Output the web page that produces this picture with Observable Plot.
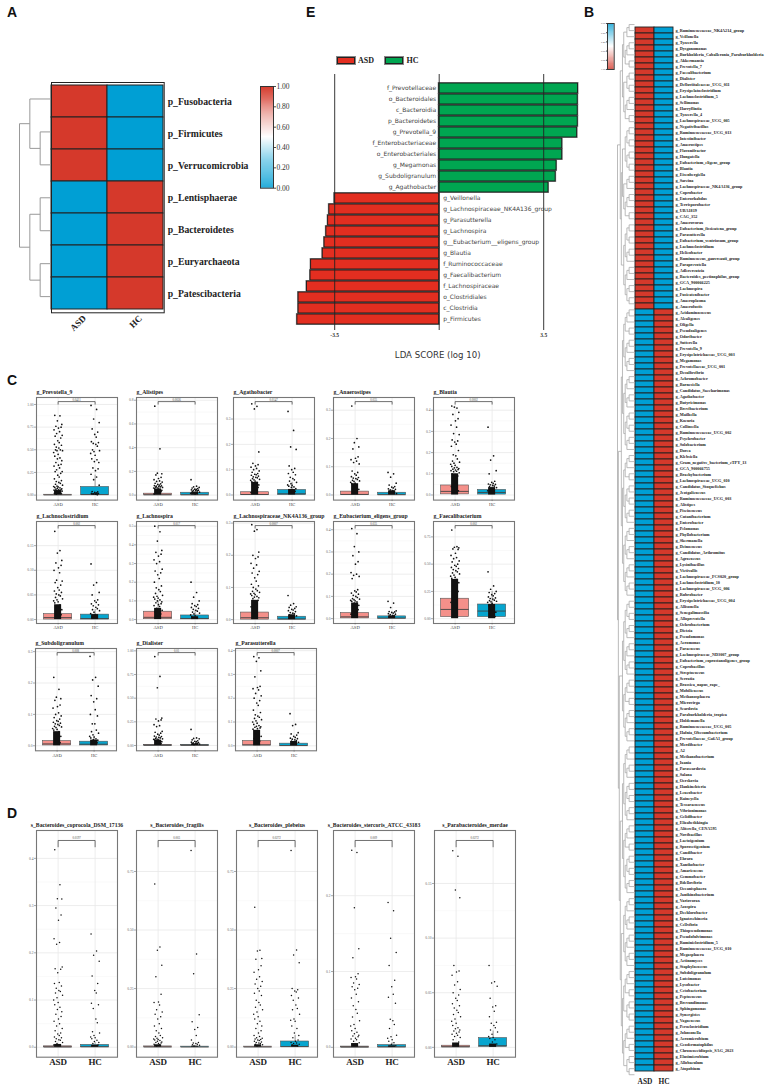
<!DOCTYPE html>
<html><head><meta charset="utf-8">
<script src="https://cdn.jsdelivr.net/npm/d3@7"></script>
<script src="https://cdn.jsdelivr.net/npm/@observablehq/plot@0.6"></script>
<style>
html,body{margin:0;padding:0;background:#fff}
#page{position:relative;width:767px;height:1089px;overflow:hidden;background:#fff}
#page svg{position:absolute;max-width:none;overflow:visible;background:transparent}
.letter{position:absolute;font:bold 14px "Liberation Sans",sans-serif;color:#111;line-height:14px}
.swatch{position:absolute;border:1px solid #222;outline:1px solid #888;box-sizing:border-box}
.legtxt{position:absolute;font:bold 8px "Liberation Serif",serif;color:#222;line-height:8px}
</style></head><body><div id="page"></div>
<script>
// ---------- Panel A ----------
const phylaHighASD=["p_Fusobacteria","p_Firmicutes","p_Verrucomicrobia"];
const phylaHighHC=["p_Lentisphaerae","p_Bacteroidetes","p_Euryarchaeota","p_Patescibacteria"];
const groups=["ASD","HC"];
const treeA=[[1,[1,1]],[[1,1],[1,1]]];
const legendTicks=[0,.2,.4,.6,.8,1];
// ---------- Panel B ----------
const genusHighASD=["g_Ruminococcaceae_NK4A214_group","g_Veillonella","g_Tyzzerella","g_Dysgonomonas","g_Burkholderia_Caballeronia_Paraburkholderia","g_Akkermansia","g_Prevotella_7","g_Faecalibacterium","g_Dialister","g_Defluviitaleaceae_UCG_011","g_Erysipelatoclostridium","g_Lachnoclostridium_5","g_Sellimonas","g_Harryflintia","g_Tyzzerella_4","g_Lachnospiraceae_UCG_005","g_Negativibacillus","g_Ruminococcaceae_UCG_013","g_Intestinibacter","g_Anaerostipes","g_Flavonifractor","g_Hungatella","g_Eubacterium_eligens_group","g_Blautia","g_Eisenbergiella","g_Sarcina","g_Lachnospiraceae_NK4A136_group","g_Coprobacter","g_Enterorhabdus","g_Terrisporobacter","g_UBA1819","g_CAG_352","g_Anaerovorax","g_Eubacterium_fissicatena_group","g_Parasutterella","g_Eubacterium_ventriosum_group","g_Lachnoclostridium","g_Helicobacter","g_Ruminococcus_gauvreauii_group","g_Paraprevotella","g_Adlercreutzia","g_Bacteroides_pectinophilus_group","g_GCA_900066225","g_Lachnospira","g_Fusicatenibacter","g_Anaeroplasma","g_Anaerofustis"];
const genusHighHC=["g_Acidaminococcus","g_Alcaligenes","g_Oligella","g_Pseudoaligenes","g_Odoribacter","g_Sutterella","g_Prevotella_9","g_Erysipelotrichaceae_UCG_003","g_Megamonas","g_Prevotellaceae_UCG_001","g_Desulfovibrio","g_Achromobacter","g_Barnesiella","g_Candidatus_Saccharimonas","g_Agathobacter","g_Butyricimonas","g_Brevibacterium","g_Mailhella","g_Kocuria","g_Collinsella","g_Ruminococcaceae_UCG_002","g_Psychrobacter","g_Solobacterium","g_Dorea","g_Klebsiella","g_Gram_negative_bacterium_cTPY_13","g_GCA_900066755","g_Brachybacterium","g_Lachnospiraceae_UCG_010","g_Candidatus_Stoquefichus","g_Jeotgalicoccus","g_Ruminococcaceae_UCG_003","g_Alistipes","g_Pisciococcus","g_Cutanibacterium","g_Enterobacter","g_Pelomonas","g_Phyllobacterium","g_Skermanella","g_Deinococcus","g_Candidatus_Arthromitus","g_Agrococcus","g_Lysinibacillus","g_Victivallis","g_Lachnospiraceae_FCS020_group","g_Lachnoclostridium_10","g_Lachnospiraceae_UCG_006","g_Rubrobacter","g_Erysipelotrichaceae_UCG_004","g_Allisonella","g_Senegalimassilia","g_Alloprevotella","g_Ochrobacterium","g_Dietzia","g_Pseudomonas","g_Aeromonas","g_Paracoccus","g_Lachnospiraceae_ND3007_group","g_Eubacterium_coprostanoligenes_group","g_Coprobacillus","g_Streptococcus","g_Serratia","g_Brassica_napus_rape_","g_Mobilicoccus","g_Methanosphaera","g_Microvirga","g_Scardovia","g_Paraburkholderia_tropica","g_Holdemanella","g_Ruminococcaceae_UCG_005","g_Hafnia_Obesumbacterium","g_Prevotellaceae_Ga6A1_group","g_Merdibacter","g_A2","g_Methanobacterium","g_Ixania","g_Parascardovia","g_Salana","g_Oerskovia","g_Hankinchteria","g_Leucobacter","g_Raineyella","g_Tessaracoccus","g_Vibrionimonas","g_Gelidibacter","g_Elizabethkingia","g_Aliterella_CENA595","g_Novibacillus","g_Lactoigenium","g_Sporosetigenium","g_Candibacter","g_Ehrara","g_Xanthobacter","g_Amaricoccus","g_Gemmobacter","g_Bdellovibrio","g_Oceanisphaera","g_Janthinobacterium","g_Variovorax","g_Azospira","g_Dechlorobacter","g_Ignatzschineria","g_Cellvibrio","g_Thiopseudomonas","g_Pseudofulvimonas","g_Ruminiclostridium_5","g_Ruminococcaceae_UCG_010","g_Megasphaera","g_Actinomyces","g_Staphylococcus","g_Subdoligranulum","g_Luteimonas","g_Lysobacter","g_Cetobacterium","g_Peptococcus","g_Brevundimonas","g_Sphingomonas","g_Synergistes","g_Vagococcus","g_Peroclostridium","g_Johnsonella","g_Aeromicrobium","g_Geodermatophilus","g_Chroococcidiopsis_SAG_2023","g_Elusimicrobium","g_Allobaculum","g_Atopobium"];
const treeB=[[[[3,5],[4,5]],[[[4,4],[3,5]],[[4,3],[3,4]]]],[[[[5,6],[6,7]],[[5,7],[6,6]]],[[[7,6],[5,6]],[[[6,7],[5,7]],[[6,6],[9,9]]]]]];
// ---------- Panel E ----------
const ldaHCNames=["f_Prevotellaceae","o_Bacteroidales","c_Bacteroidia","p_Bacteroidetes","g_Prevotella_9","f_Enterobacteriaceae","o_Enterobacteriales","g_Megamonas","g_Subdoligranulum","g_Agathobacter"];
const ldaHCScores=[4.65,4.64,4.64,4.64,4.62,4.12,4.12,3.93,3.90,3.66];
const ldaASDNames=["g_Veillonella","g_Lachnospiraceae_NK4A136_group","g_Parasutterella","g_Lachnospira","g__Eubacterium__eligens_group","g_Blautia","f_Ruminococcaceae","g_Faecalibacterium","f_Lachnospiraceae","o_Clostridiales","c_Clostridia","p_Firmicutes"];
const ldaASDScores=[-3.50,-3.68,-3.72,-3.78,-3.84,-3.90,-4.29,-4.31,-4.43,-4.71,-4.71,-4.75];
const ldaTicks=[-3.5,0,3.5];
// ---------- Panels C and D: values read per panel ----------
const jitter=[-.09,.05,-.02,.1,-.06,.08,.01,-.11,.04,-.04,.11,-.08,.07,-.01,.03,-.1,.09,-.05,.02,.06,-.07,.12,-.03,-.12,0];
const prevotella9ASD=[.88,.875,.82,.78,.76,.75,.74,.72,.7,.68,.66,.65,.63,.6,.58,.56,.55,.53,.52,.5,.5,.49,.49,.47,.45,.43,.41,.4,.38,.36,.34,.33,.32,.3,.28,.26,.26,.24,.22,.2,.18,.16,.15,.14,.13,.12,.11,.1,.095,.09,.085,.08,.075,.07,.065,.06,.058,.055,.052,.05,.045,.04,.035,.03,.025,.02,.015,.01];
const prevotella9HC=[.99,.945,.84,.8,.73,.695,.67,.64,.59,.58,.57,.56,.54,.5,.49,.48,.46,.44,.4,.39,.37,.36,.3,.29,.27,.23,.2,.17,.11,.04,.035,.03,.025,.02,.018,.015,.01,.005];
const alistipesASD=[.75,.39,.185,.18,.17,.15,.14,.13,.12,.115,.11,.1,.095,.09,.085,.08,.078,.075,.072,.07,.068,.065,.062,.06,.058,.055,.05,.045,.04,.035,.03,.02,.01];
const alistipesHC=[.13,.075,.07,.065,.06,.055,.05,.048,.045,.042,.04,.038,.035,.03,.025,.02,.015,.01];
const agathobacterASD=[.36,.35,.34,.17,.125,.12,.115,.11,.105,.1,.095,.09,.085,.082,.08,.078,.075,.072,.07,.068,.065,.062,.06,.058,.055,.052,.05,.045,.04,.035,.03,.02,.01];
const agathobacterHC=[.33,.255,.19,.18,.115,.105,.1,.09,.085,.08,.07,.065,.06,.055,.05,.045,.04,.038,.035,.032,.03,.025,.02,.015,.01];
const anaerostipesASD=[.315,.2,.185,.17,.163,.135,.13,.125,.12,.115,.11,.085,.08,.075,.07,.065,.062,.06,.058,.055,.052,.05,.048,.045,.042,.04,.035,.03,.02,.01];
const anaerostipesHC=[.08,.075,.063,.042,.035,.03,.028,.025,.022,.02,.018,.015,.012,.01,.005];
const blautiaASD=[.42,.41,.415,.39,.38,.36,.35,.33,.32,.29,.285,.26,.255,.25,.24,.23,.21,.19,.185,.17,.16,.155,.15,.145,.14,.135,.13,.128,.125,.122,.12,.118,.115,.112,.11,.105,.1,.09,.08,.06,.04,.02];
const blautiaHC=[.32,.185,.165,.115,.1,.065,.06,.055,.052,.05,.048,.045,.042,.04,.035,.03,.02,.01];
const lachnoclostridiumASD=[.179,.14,.135,.12,.115,.11,.105,.1,.095,.08,.078,.075,.07,.065,.06,.058,.055,.052,.05,.048,.045,.042,.04,.038,.036,.034,.03,.025,.02,.015,.01];
const lachnoclostridiumHC=[.113,.075,.07,.055,.05,.04,.038,.035,.032,.03,.028,.025,.022,.02,.018,.015,.012,.01,.005];
const lachnospiraASD=[.5,.47,.42,.37,.36,.35,.34,.32,.31,.3,.27,.26,.25,.24,.22,.2,.18,.17,.16,.15,.14,.13,.125,.12,.115,.11,.105,.1,.095,.09,.085,.08,.075,.07,.06,.05,.04,.03,.02];
const lachnospiraHC=[.2,.145,.12,.1,.085,.08,.075,.07,.065,.06,.055,.05,.045,.04,.035,.03,.025,.02,.015,.01];
const nk4a136ASD=[.295,.28,.275,.21,.2,.195,.19,.175,.17,.16,.15,.145,.14,.13,.12,.11,.105,.1,.095,.09,.088,.085,.082,.08,.078,.075,.072,.07,.068,.065,.06,.05,.04,.03,.02];
const nk4a136HC=[.075,.05,.045,.04,.038,.035,.032,.03,.028,.025,.022,.02,.018,.015,.012,.01];
const eligensASD=[.405,.382,.324,.3,.283,.256,.245,.207,.2,.195,.19,.18,.13,.125,.12,.115,.11,.105,.1,.095,.09,.088,.085,.082,.08,.078,.075,.07,.06,.05,.04,.03,.02];
const eligensHC=[.078,.07,.05,.035,.032,.03,.028,.025,.022,.02,.018,.015,.012,.01];
const faecaliASD=[.813,.66,.655,.65,.64,.635,.6,.58,.56,.55,.53,.52,.5,.49,.48,.47,.46,.45,.44,.43,.42,.41,.4,.39,.38,.37,.36,.35,.33,.3,.25,.2,.15,.1];
const faecaliHC=[.43,.3,.27,.25,.24,.23,.22,.21,.2,.19,.185,.18,.17,.165,.16,.155,.15,.14,.12,.1,.08,.06,.04,.02];
const subdoASD=[.218,.18,.155,.15,.145,.13,.125,.12,.105,.1,.095,.09,.085,.08,.078,.075,.072,.07,.068,.065,.062,.06,.058,.055,.052,.05,.045,.04,.03,.02,.01];
const subdoHC=[.285,.218,.21,.19,.16,.15,.14,.115,.1,.095,.07,.07,.05,.045,.04,.035,.03,.028,.025,.022,.02,.018,.015,.01];
const dialisterASD=[.94,.73,.61,.29,.28,.27,.26,.22,.21,.2,.15,.14,.13,.12,.11,.1,.095,.09,.085,.08,.075,.07,.068,.065,.062,.06,.055,.05,.04,.03,.02];
const dialisterHC=[.17,.08,.075,.07,.06,.05,.045,.04,.035,.03,.028,.025,.022,.02,.015,.01];
const parasutterellaASD=[.375,.37,.355,.315,.29,.25,.245,.24,.235,.22,.21,.2,.19,.18,.17,.15,.14,.13,.125,.12,.115,.11,.105,.1,.095,.09,.085,.082,.08,.078,.075,.072,.07,.06,.05,.04,.03,.02];
const parasutterellaHC=[.135,.09,.085,.055,.05,.045,.04,.035,.032,.03,.028,.025,.022,.02,.015,.01];
const coprocolaASD=[.418,.344,.3145,.314,.295,.28,.269,.23,.222,.218,.17,.166,.165,.158,.137,.135,.13,.125,.12,.118,.115,.11,.105,.1,.095,.09,.085,.08,.075,.07,.065,.06,.055,.05,.045,.04,.035,.03,.028,.025,.022,.02,.018,.016,.015,.012,.01,.008,.005];
const coprocolaHC=[.24,.204,.195,.182,.151,.135,.12,.115,.093,.09,.082,.06,.052,.033,.03,.025,.022,.02,.018,.015,.012,.01,.008,.005];
const fragilisASD=[.697,.428,.414,.35,.3,.226,.193,.19,.18,.16,.15,.14,.13,.12,.1,.09,.08,.07,.06,.05,.045,.04,.038,.035,.032,.03,.028,.025,.022,.02,.018,.015,.012,.01,.005];
const fragilisHC=[.84,.398,.313,.138,.108,.084,.075,.05,.03,.02,.018,.015,.012,.01,.008,.005];
const plebeiusASD=[.597,.414,.41,.378,.375,.347,.33,.32,.3,.29,.28,.27,.26,.25,.24,.23,.22,.2,.19,.18,.17,.16,.15,.14,.13,.12,.11,.1,.09,.08,.07,.06,.05,.045,.04,.038,.035,.032,.03,.028,.025,.022,.02,.018,.015,.012,.01,.005];
const plebeiusHC=[.84,.415,.393,.36,.25,.245,.24,.235,.22,.21,.2,.18,.165,.16,.14,.12,.115,.11,.09,.08,.06,.05,.04,.03,.025,.02,.018,.015,.012,.01,.005];
const stercorisASD=[.26,.257,.184,.13,.118,.097,.093,.092,.09,.085,.083,.08,.078,.076,.07,.065,.06,.055,.05,.045,.04,.035,.03,.028,.025,.022,.02,.018,.016,.015,.014,.012,.011,.01,.008,.006,.004];
const stercorisHC=[.191,.18,.144,.125,.108,.0885,.08,.07,.066,.058,.037,.035,.03,.025,.016,.014,.012,.01,.008,.006,.004,.002];
const merdaeASD=[.18,.175,.144,.137,.075,.07,.069,.066,.06,.057,.053,.05,.048,.045,.043,.04,.038,.036,.034,.032,.03,.028,.026,.024,.022,.02,.018,.017,.016,.015,.014,.013,.012,.011,.01,.009,.007,.005,.003];
const merdaeHC=[.075,.06,.059,.056,.045,.038,.037,.033,.028,.023,.022,.02,.018,.016,.014,.012,.01,.009,.008,.007,.005,.003];

const panels=[
 {t:"g_Prevotella_9",p:"0.0411",l:35.7,u:396.7,h:102.6,d:[-.055,1.077],tk:[0,.25,.5,.75,1],f:".2f",a:prevotella9ASD,b:prevotella9HC,ma:.05,mb:.015,ba:[0,.002,.004,.01],bb:[0,.005,.09,.22]},
 {t:"g_Alistipes",p:"0.0026",l:135.7,u:396.7,h:102.6,d:[-.042,.823],tk:[0,.2,.4,.6,.8],f:".1f",a:alistipesASD,b:alistipesHC,ma:.05,mb:.025,ba:[0,.002,.012,.03],bb:[0,.002,.02,.05]},
 {t:"g_Agathobacter",p:"0.0147",l:233.3,u:396.7,h:102.6,d:[-.02,.385],tk:[0,.1,.2,.3],f:".1f",a:agathobacterASD,b:agathobacterHC,ma:.05,mb:.022,ba:[0,.002,.011,.03],bb:[0,.005,.02,.05]},
 {t:"g_Anaerostipes",p:"0.035",l:333.3,u:396.7,h:102.6,d:[-.018,.345],tk:[0,.1,.2,.3],f:".1f",a:anaerostipesASD,b:anaerostipesHC,ma:.04,mb:.015,ba:[0,.002,.012,.03],bb:[0,.001,.008,.02]},
 {t:"g_Blautia",p:"0.0002",l:432.7,u:396.7,h:102.6,d:[-.024,.46],tk:[0,.1,.2,.3,.4],f:".1f",a:blautiaASD,b:blautiaHC,ma:.1,mb:.035,ba:[.003,.017,.045,.1],bb:[.002,.012,.024,.05]},
 {t:"g_Lachnoclostridium",p:"0.002",l:35.7,u:520.7,h:102,d:[-.008,.199],tk:[0,.05,.1,.15],f:".2f",a:lachnoclostridiumASD,b:lachnoclostridiumHC,ma:.03,mb:.01,ba:[0,.004,.011,.03],bb:[0,.002,.01,.02]},
 {t:"g_Lachnospira",p:"0.017",l:135.7,u:520.7,h:102,d:[-.021,.525],tk:[0,.1,.2,.3,.4,.5],f:".1f",a:lachnospiraASD,b:lachnospiraHC,ma:.06,mb:.015,ba:[.002,.012,.042,.1],bb:[.001,.006,.022,.05]},
 {t:"g_Lachnospiraceae_NK4A136_group",p:"0.0007",l:233.3,u:520.7,h:102,d:[-.012,.305],tk:[0,.1,.2,.3],f:".1f",a:nk4a136ASD,b:nk4a136HC,ma:.06,mb:.015,ba:[0,.006,.022,.05],bb:[0,.002,.009,.02]},
 {t:"g_Eubacterium_eligens_group",p:"0.035",l:333.3,u:520.7,h:102,d:[-.022,.437],tk:[0,.1,.2,.3,.4],f:".1f",a:eligensASD,b:eligensHC,ma:.07,mb:.012,ba:[.001,.008,.025,.05],bb:[0,.002,.01,.015]},
 {t:"g_Faecalibacterium",p:"0.002",l:432.7,u:520.7,h:102,d:[-.044,.891],tk:[0,.25,.5,.75],f:".2f",a:faecaliASD,b:faecaliHC,ma:.36,mb:.13,ba:[.015,.085,.183,.38],bb:[.015,.07,.13,.25]},
 {t:"g_Subdoligranulum",p:"0.008",l:35.3,u:647.7,h:102.3,d:[-.016,.31],tk:[0,.1,.2,.3],f:".1f",a:subdoASD,b:subdoHC,ma:.045,mb:.018,ba:[.001,.006,.015,.03],bb:[.001,.005,.013,.03]},
 {t:"g_Dialister",p:"0.01",l:135.7,u:647.7,h:102.3,d:[-.056,1.025],tk:[0,.25,.5,.75,1],f:".2f",a:dialisterASD,b:dialisterHC,ma:.055,mb:.018,ba:[0,.001,.006,.015],bb:[0,.001,.005,.012]},
 {t:"g_Parasutterella",p:"0.0007",l:235.3,u:647.7,h:102.3,d:[-.021,.409],tk:[0,.1,.2,.3,.4],f:".1f",a:parasutterellaASD,b:parasutterellaHC,ma:.065,mb:.018,ba:[.001,.004,.02,.05],bb:[0,.001,.009,.02]},
 {t:"s_Bacteroides_coprocola_DSM_17136",p:"0.0197",l:35.7,u:830.3,h:226.7,big:1,d:[-.021,.459],tk:[0,.1,.2,.3,.4],f:".1f",a:coprocolaASD,b:coprocolaHC,ma:.006,mb:.004,ba:[0,.0005,.002,.004],bb:[0,.001,.005,.01]},
 {t:"s_Bacteroides_fragilis",p:"0.003",l:135.7,u:830.3,h:226.7,big:1,d:[-.043,.925],tk:[0,.25,.5,.75],f:".2f",a:fragilisASD,b:fragilisHC,ma:.01,mb:.004,ba:[0,.0005,.003,.006],bb:[0,.0005,.002,.004]},
 {t:"s_Bacteroides_plebeius",p:"0.0272",l:235.7,u:830.3,h:226.7,big:1,d:[-.043,.925],tk:[0,.25,.5,.75],f:".2f",a:plebeiusASD,b:plebeiusHC,ma:.01,mb:.008,ba:[0,.0005,.002,.005],bb:[0,.002,.024,.05]},
 {t:"s_Bacteroides_stercoris_ATCC_43183",p:"0.009",l:333.3,u:830.3,h:226.7,big:1,d:[-.013,.286],tk:[0,.1,.2],f:".1f",a:stercorisASD,b:stercorisHC,ma:.005,mb:.002,ba:[0,.0002,.001,.002],bb:[0,.0005,.003,.006]},
 {t:"s_Parabacteroides_merdae",p:"0.0272",l:433.7,u:830.3,h:226.7,big:1,d:[-.009,.1985],tk:[0,.05,.1,.15],f:".2f",a:merdaeASD,b:merdaeHC,ma:.004,mb:.003,ba:[0,.0005,.0015,.003],bb:[.0005,.0015,.0085,.015]}
];
// ---------- Colours ----------
const blue="#009fd4",red="#d5392b",serif='"Liberation Serif",serif',sans='"DejaVu Sans",sans-serif';
const heatColor={type:"linear",domain:[0,.5,1],range:[blue,"#ffffff",red]};
const page=document.getElementById("page");
function place(svg,left,top){svg.style.left=left+"px";svg.style.top=top+"px";page.appendChild(svg);}
function html(cls,left,top,txt,css){const e=document.createElement("div");e.className=cls;e.style.left=left+"px";e.style.top=top+"px";if(txt)e.textContent=txt;if(css)Object.assign(e.style,css);page.appendChild(e);}

function treeLinks(t,start,out){
 if(typeof t==="number"){
  if(t===1)return{y:start+.5,h:0,n:1};
  t=[Math.ceil(t/2),Math.floor(t/2)];
 }
 const a=treeLinks(t[0],start,out),b=treeLinks(t[1],start+a.n,out);
 const h=1+Math.max(a.h,b.h);
 out.push({x1:h,y1:a.y,x2:h,y2:b.y},{x1:h,y1:a.y,x2:a.h,y2:a.y},{x1:h,y1:b.y,x2:b.h,y2:b.y});
 return{y:(a.y+b.y)/2,h,n:a.n+b.n};
}
function dendro(tree,rows,left,top,w,h,color,sw,type){
 const links=[],root=treeLinks(tree,0,links);
 place(Plot.plot({width:w,height:h,margin:0,
  x:{type,domain:[root.h,0],range:[0,w],axis:null},y:{domain:[0,rows],range:[0,h],axis:null},
  marks:[Plot.link(links,{x1:"x1",y1:"y1",x2:"x2",y2:"y2",stroke:color,strokeWidth:sw})]}),left,top);
}
function gradient(left,top,w,h,flip,fs,labelRight){
 const steps=d3.range(0,1,.01);
 const ml=labelRight?0:12,mr=labelRight?22:0;
 place(Plot.plot({width:w+ml+mr,height:h+4,marginLeft:ml,marginRight:mr,marginTop:2,marginBottom:2,
  color:heatColor,
  x:{domain:[0,1],axis:null},
  y:{domain:flip?[1,0]:[0,1],axis:null},
  style:{fontFamily:serif,fontSize:fs+"px"},
  marks:[Plot.rectY(steps,{y1:d=>d,y2:d=>Math.min(1,d+.012),x1:()=>0,x2:()=>1,fill:d=>d}),
   Plot.axisY(legendTicks,{anchor:labelRight?"right":"left",tickSize:labelRight?2:1,tickPadding:1,tickFormat:d3.format(".2f"),fontSize:fs,fill:"#333",strokeWidth:.7}),
   Plot.frame({stroke:"#333",strokeWidth:1})]}),left-ml,top-2);
}
// Panel A
{
 const taxa=[...phylaHighASD,...phylaHighHC];
 const cells=[];
 for(const t of taxa)for(const g of groups)cells.push({t,g,v:(phylaHighASD.includes(t)===(g==="ASD"))?1:0});
 place(Plot.plot({width:205,height:262,marginLeft:1,marginRight:91.3,marginTop:1,marginBottom:30.7,
  color:heatColor,x:{domain:groups,padding:0},y:{domain:taxa,padding:0},
  style:{fontFamily:serif,fontWeight:"bold",color:"#222"},
  marks:[Plot.cell(cells,{x:"g",y:"t",fill:"v",stroke:"#222",strokeWidth:1}),
   Plot.axisY({anchor:"right",tickSize:0,tickPadding:3.5,fontSize:9.7,label:null,fontWeight:"bold",fill:"#222"}),
   Plot.axisX({tickRotate:-45,tickSize:0,tickPadding:4,dx:5,fontSize:9,label:null,fontWeight:"bold",fill:"#222"}),
   Plot.frame({stroke:"#222",strokeWidth:1})]}),50,80.7);
 dendro(treeA,7,19,81.7,31,230.6,"#999",1,"linear");
 gradient(260,86,13,101.7,false,7.5,true);
}
// Panel B
{
 const names=[...genusHighASD,...genusHighHC];
 const cells=[];
 for(const t of names)for(const g of groups)cells.push({t,g,v:(genusHighASD.includes(t)===(g==="ASD"))?1:0});
 place(Plot.plot({width:134,height:1069,marginLeft:1,marginRight:93.7,marginTop:1,marginBottom:11.7,
  color:heatColor,x:{domain:groups,padding:0},y:{domain:names,padding:0},
  style:{fontFamily:serif,fontWeight:"bold",color:"#222"},
  marks:[Plot.cell(cells,{x:"g",y:"t",fill:"v",stroke:"#222",strokeWidth:.9}),
   Plot.axisY({anchor:"right",tickSize:0,tickPadding:1.7,fontSize:4.2,label:null,fontWeight:"bold",fill:"#222"}),
   Plot.axisX({tickSize:0,tickPadding:1,fontSize:7.4,label:null,fontWeight:"bold",fill:"#222"})]}),633,20);
 dendro(treeB,174,617,21,17,1056.3,"#aaa",.8,"sqrt");
 gradient(607.3,23.3,6.7,46,true,2.6,false);
}
// Panel E
{
 const names=[...ldaHCNames,...ldaASDNames];
 const rows=[...ldaHCNames.map((n,i)=>({n,v:ldaHCScores[i]})),...ldaASDNames.map((n,i)=>({n,v:ldaASDScores[i]}))];
 const hcRows=rows.filter(d=>d.v>0),asdRows=rows.filter(d=>d.v<0);
 const barOpts={x1:()=>0,x2:"v",y:"n"};
 place(Plot.plot({width:300,height:300,marginLeft:2.4,marginRight:5,marginTop:14,marginBottom:30,
  x:{domain:[-4.9,4.9],range:[2.4,295]},
  y:{domain:names,range:[20.1,266.6],padding:.12,axis:null},
  style:{fontFamily:sans,color:"#444"},
  marks:[
   Plot.barX(rows,{...barOpts,fill:"none",stroke:"#8a8a8a",strokeWidth:2}),
   Plot.barX(hcRows,{...barOpts,fill:"#00a651",stroke:"#1a1a1a",strokeWidth:.9}),
   Plot.barX(asdRows,{...barOpts,fill:"#e32e20",stroke:"#1a1a1a",strokeWidth:.9}),
   Plot.ruleX(ldaTicks,{stroke:"#222",strokeWidth:.9}),
   Plot.text(hcRows,{x:()=>0,y:"n",text:"n",textAnchor:"end",dx:-3,fontSize:6,fill:"#444"}),
   Plot.text(asdRows,{x:()=>0,y:"n",text:"n",textAnchor:"start",dx:4,fontSize:6,fill:"#444"}),
   Plot.axisX([-3.5,3.5],{tickSize:0,tickPadding:3,fontSize:5.5,fontFamily:serif,fontWeight:"bold",label:null,fill:"#333",tickFormat:d=>String(d)}),
   Plot.text(["LDA SCORE (log 10)"],{frameAnchor:"bottom",dy:27,dx:-1.5,lineAnchor:"bottom",fontSize:8.6,fill:"#333"})
  ]}),290,60);
 html("swatch",336.7,57.3,"",{width:"18px",height:"7px",background:"#e32e20"});
 html("legtxt",358,57,"ASD");
 html("swatch",385,57.3,"",{width:"18px",height:"7px",background:"#00a651"});
 html("legtxt",406.5,57,"HC");
}
// Panels C and D
for(const P of panels){
 const w=81,ml=14,mr=1,mt=10,mb=14;
 const range=P.d[1]-P.d[0];
 const minor=P.tk.slice(0,-1).map((d,i)=>(d+P.tk[i+1])/2);
 const topY=P.d[1]-(P.big?.044:.04)*range,tipY=topY-(P.big?.028:.025)*range;
 const dots=[...P.a.map((v,i)=>({g:0,x:jitter[i%jitter.length],v})),...P.b.map((v,i)=>({g:1,x:jitter[(i+7)%jitter.length],v}))];
 const boxes=[{g:0,q:P.ba,fill:"#f4908a"},{g:1,q:P.bb,fill:"#06a5cf"}];
 const fmt=d3.format(P.f);
 place(Plot.plot({width:w+ml+mr,height:P.h+mt+mb,marginLeft:ml,marginRight:mr,marginTop:mt,marginBottom:mb,
  x:{domain:[-.584,1.605]},y:{domain:P.d},
  style:{fontFamily:serif},
  marks:[
   Plot.ruleY(minor,{stroke:"#f2f2f2",strokeWidth:.5}),
   Plot.ruleY(P.tk,{stroke:"#e8e8e8",strokeWidth:.8}),
   Plot.ruleX([0,1],{stroke:"#e8e8e8",strokeWidth:.8}),
   Plot.ruleX(boxes,{x:"g",y1:d=>d.q[2],y2:d=>d.q[3],stroke:"#888",strokeWidth:.8}),
   Plot.rect(boxes,{x1:d=>d.g-.38,x2:d=>d.g+.38,y1:d=>d.q[0],y2:d=>d.q[2],fill:"fill",stroke:"#555",strokeWidth:.6}),
   Plot.ruleY(boxes,{y:d=>d.q[1],x1:d=>d.g-.38,x2:d=>d.g+.38,stroke:"#444",strokeWidth:.9}),
   Plot.rect([{g:0,m:P.ma},{g:1,m:P.mb}],{x1:d=>d.g-.095,x2:d=>d.g+.095,y1:()=>0,y2:"m",fill:"#111"}),
   Plot.dot(dots,{x:d=>d.g+d.x,y:"v",r:P.big?.75:.85,fill:"#111"}),
   Plot.line([[0,tipY],[0,topY],[1,topY],[1,tipY]],{stroke:"#333",strokeWidth:.7}),
   Plot.text([P.p],{x:()=>.5,y:()=>topY,dy:-2,fontSize:3,fill:"#444"}),
   Plot.frame({stroke:"#777",strokeWidth:1.1}),
   Plot.axisY(P.tk,{tickSize:2,tickPadding:1,fontSize:3.6,tickFormat:fmt,label:null,fill:"#666",stroke:"#555",strokeWidth:.5}),
   Plot.axisX([0,1],{tickSize:P.big?0:1.5,tickPadding:1,fontSize:P.big?9:4.6,fontWeight:P.big?"bold":"normal",tickFormat:d=>groups[d],label:null,fill:P.big?"#222":"#444",stroke:"#555",strokeWidth:.5}),
   Plot.text([P.t],{frameAnchor:P.big?"top":"top-left",dy:-3.2,lineAnchor:"bottom",fontSize:5.7,fontWeight:"bold",fill:"#222"})
  ]}),P.l-ml,P.u-mt);
}
// Panel letters
[["A",7,5],["E",306,5],["B",584,5],["C",7,373],["D",7,806]].forEach(([t,x,y])=>html("letter",x,y,t));
</script></body></html>
